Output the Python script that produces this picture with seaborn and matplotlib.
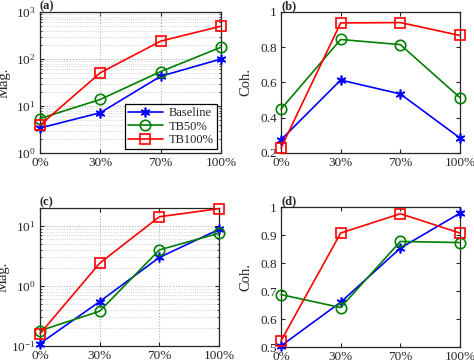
import matplotlib
matplotlib.use("Agg")
import matplotlib.pyplot as plt
import seaborn as sns
import numpy as np
from matplotlib.ticker import LogLocator, NullFormatter

categories = ["0%", "30%", "70%", "100%"]
series = ["Baseline", "TB50%", "TB100%"]

# (a) Magnitude, log
a_baseline = [3.4, 7.2, 43, 100]
a_tb50 = [5.4, 13.8, 54, 178]
a_tb100 = [3.9, 51, 240, 500]
# (b) Coherence
b_baseline = [0.275, 0.614, 0.535, 0.285]
b_tb50 = [0.449, 0.844, 0.815, 0.514]
b_tb100 = [0.228, 0.938, 0.940, 0.867]
# (c) Magnitude, log
c_baseline = [0.11, 0.55, 3.0, 8.8]
c_tb50 = [0.18, 0.38, 4.0, 7.6]
c_tb100 = [0.16, 2.4, 14.3, 19.5]
# (d) Coherence
d_baseline = [0.504, 0.660, 0.853, 0.978]
d_tb50 = [0.687, 0.641, 0.877, 0.873]
d_tb100 = [0.522, 0.907, 0.976, 0.907]

sns.set_style("ticks")
plt.rcParams["font.family"] = "serif"
plt.rcParams["font.serif"] = ["Liberation Serif", "DejaVu Serif"]
plt.rcParams["mathtext.fontset"] = "stix"

colors = {"Baseline": "#0000FF", "TB50%": "#008000", "TB100%": "#FF0000"}
markers = {"Baseline": (6, 2, 0), "TB50%": "o", "TB100%": "s"}
msizes = {"Baseline": 7, "TB50%": 7.5, "TB100%": 6.5}

fig = plt.figure(figsize=(4.74, 3.64), dpi=100)
W, H = 474, 364

def add_ax(l, r, t, b):
    return fig.add_axes([l / W, (H - b) / H, (r - l) / W, (b - t) / H])

axes = {
    "a": add_ax(40, 221, 12, 153),
    "b": add_ax(281, 460, 12, 153),
    "c": add_ax(40, 219, 208, 346),
    "d": add_ax(281, 460, 207, 347),
}
data = {
    "a": [a_baseline, a_tb50, a_tb100],
    "b": [b_baseline, b_tb50, b_tb100],
    "c": [c_baseline, c_tb50, c_tb100],
    "d": [d_baseline, d_tb50, d_tb100],
}
xpos = np.arange(len(categories))

for key, ax in axes.items():
    for name, vals in zip(series, data[key]):
        sns.lineplot(x=xpos, y=vals, ax=ax, color=colors[name], marker=markers[name],
                     markersize=msizes[name], markerfacecolor="none",
                     markeredgecolor=colors[name], markeredgewidth=1.2,
                     linewidth=1.2, label=name, clip_on=False, zorder=3)
    ax.set_xlim(0, 3)
    ax.set_xticks(xpos)
    ax.set_xticklabels(categories)
    ax.tick_params(direction="in", top=True, right=True, labelsize=9.5,
                   length=3, width=0.8, pad=3)
    ax.tick_params(which="minor", direction="in", top=True, right=True, length=1.5)
    for sp in ax.spines.values():
        sp.set_linewidth(0.9)
        sp.set_color("#262626")
    if ax.get_legend() is not None and key != "a":
        ax.get_legend().remove()

# (a)
ax = axes["a"]
ax.set_yscale("log")
ax.set_ylim(1, 1000)
ax.yaxis.set_major_locator(LogLocator(base=10, numticks=10))
ax.yaxis.set_minor_locator(LogLocator(base=10, subs=np.arange(2, 10), numticks=10))
ax.yaxis.set_minor_formatter(NullFormatter())
ax.grid(True, which="major", linestyle=":", color="#b0b0b0", linewidth=0.8)
ax.grid(True, which="minor", axis="y", linestyle=":", color="#c8c8c8", linewidth=0.6)
ax.set_ylabel("Mag.", fontsize=10.5)
ax.yaxis.set_label_coords(-0.16, 0.5)
leg = ax.legend(loc="lower right", fontsize=9, frameon=True, fancybox=False,
                edgecolor="black", framealpha=1, handlelength=2.8,
                borderpad=0.25, labelspacing=0.12, handletextpad=0.5,
                borderaxespad=0.3)
leg.get_frame().set_linewidth(0.9)

# (b)
ax = axes["b"]
ax.set_ylim(0.2, 1.0)
ax.set_yticks([0.2, 0.4, 0.6, 0.8, 1.0])
ax.set_yticklabels(["0.2", "0.4", "0.6", "0.8", "1"])
ax.set_ylabel("Coh.", fontsize=10.5)
ax.yaxis.set_label_coords(-0.16, 0.5)

# (c)
ax = axes["c"]
ax.set_yscale("log")
ax.set_ylim(0.1, 20)
ax.yaxis.set_major_locator(LogLocator(base=10, numticks=10))
ax.yaxis.set_minor_locator(LogLocator(base=10, subs=np.arange(2, 10), numticks=10))
ax.yaxis.set_minor_formatter(NullFormatter())
ax.grid(True, which="major", linestyle=":", color="#b0b0b0", linewidth=0.8)
ax.grid(True, which="minor", axis="y", linestyle=":", color="#c8c8c8", linewidth=0.6)
ax.set_ylabel("Mag.", fontsize=10.5)
ax.yaxis.set_label_coords(-0.17, 0.5)

# (d)
ax = axes["d"]
ax.set_ylim(0.5, 1.0)
ax.set_yticks([0.5, 0.6, 0.7, 0.8, 0.9, 1.0])
ax.set_yticklabels(["0.5", "0.6", "0.7", "0.8", "0.9", "1"])
ax.set_ylabel("Coh.", fontsize=10.5)
ax.yaxis.set_label_coords(-0.16, 0.5)

for key, ax in axes.items():
    ax.text(0.0, 1.0, f"({key})", transform=ax.transAxes, fontsize=9,
            fontweight="bold", ha="left", va="bottom")

fig.savefig("out.png", dpi=100)
